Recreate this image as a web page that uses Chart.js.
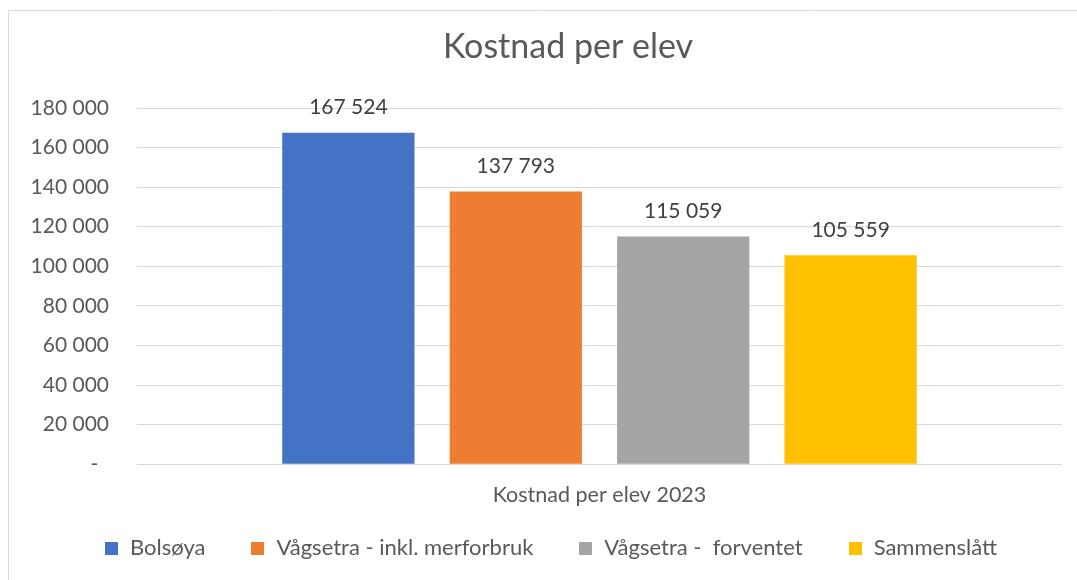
<!DOCTYPE html>
<html><head><meta charset="utf-8">
<script src="https://cdn.jsdelivr.net/npm/chart.js@4/dist/chart.umd.min.js"></script>
<style>html,body{margin:0;padding:0;background:#fff}#wrap{position:relative;width:1077px;height:580px}</style>
</head><body><div id="wrap"><canvas id="c" width="1077" height="580"></canvas></div>
<script>
const chartTitle = 'Kostnad per elev';
const categories = ['Kostnad per elev 2023'];
const seriesNames = ['Bolsøya', 'Vågsetra - inkl. merforbruk', 'Vågsetra -  forventet', 'Sammenslått'];
const bolsoya = [167524];
const vagsetraInkl = [137793];
const vagsetraForventet = [115059];
const sammenslatt = [105559];
const yTickValues = [0, 20000, 40000, 60000, 80000, 100000, 120000, 140000, 160000, 180000];
const seriesColors = ['#4472C4', '#ED7D31', '#A5A5A5', '#FFC000'];

const FONT = 'Lato';
function fmt(v) {
  if (v === 0) return '-  ';
  return String(Math.round(v)).replace(/\B(?=(\d{3})+(?!\d))/g, ' ');
}

const frame = {
  id: 'frame',
  beforeDraw(chart) {
    const ctx = chart.ctx;
    ctx.save();
    ctx.fillStyle = '#fff';
    ctx.fillRect(0, 0, chart.width, chart.height);
    ctx.strokeStyle = '#d9d9d9';
    ctx.lineWidth = 1;
    ctx.beginPath();
    ctx.moveTo(8.5, chart.height);
    ctx.lineTo(8.5, 10.5);
    ctx.lineTo(chart.width, 10.5);
    ctx.stroke();
    ctx.font = '34px ' + FONT;
    ctx.fillStyle = '#595959';
    ctx.textAlign = 'center';
    ctx.textBaseline = 'middle';
    ctx.fillText(chartTitle, 568, 47);
    ctx.restore();
  }
};

const dataLabels = {
  id: 'dataLabels',
  afterDatasetsDraw(chart) {
    const ctx = chart.ctx;
    ctx.save();
    ctx.font = '21px ' + FONT;
    ctx.fillStyle = '#404040';
    ctx.textAlign = 'center';
    ctx.textBaseline = 'middle';
    chart.data.datasets.forEach((ds, i) => {
      const meta = chart.getDatasetMeta(i);
      meta.data.forEach((el, j) => {
        ctx.fillText(fmt(ds.data[j]), el.x, el.y - 25);
      });
    });
    ctx.restore();
  }
};

const bottomLegend = {
  id: 'bottomLegend',
  afterDraw(chart) {
    const ctx = chart.ctx;
    ctx.save();
    ctx.font = '22px ' + FONT;
    ctx.textBaseline = 'middle';
    ctx.textAlign = 'left';
    const box = 13, gap = 12, spacing = 46, cy = 548;
    const items = chart.data.datasets.map(ds => ({ label: ds.label, color: ds.backgroundColor, w: ctx.measureText(ds.label).width }));
    let total = 0;
    items.forEach((it, i) => { total += box + gap + it.w + (i < items.length - 1 ? spacing : 0); });
    let x = 551 - total / 2;
    items.forEach(it => {
      ctx.fillStyle = it.color;
      ctx.fillRect(Math.round(x), cy - 6, box, box);
      ctx.fillStyle = '#595959';
      ctx.fillText(it.label, x + box + gap, cy);
      x += box + gap + it.w + spacing;
    });
    ctx.restore();
  }
};

const seriesData = [bolsoya, vagsetraInkl, vagsetraForventet, sammenslatt];

new Chart(document.getElementById('c'), {
  type: 'bar',
  data: {
    labels: categories,
    datasets: seriesNames.map((n, i) => ({
      label: n,
      data: seriesData[i],
      backgroundColor: seriesColors[i],
      borderWidth: 0,
      categoryPercentage: 0.724,
      barPercentage: 0.79
    }))
  },
  options: {
    responsive: false,
    devicePixelRatio: 1,
    animation: false,
    layout: { padding: { left: 10, right: 15, top: 108, bottom: 62 } },
    plugins: {
      title: { display: false },
      legend: { display: false },
      tooltip: { enabled: false }
    },
    scales: {
      x: {
        grid: { display: false },
        border: { display: false },
        ticks: { color: '#595959', font: { family: FONT, size: 21.5 }, padding: 10 }
      },
      y: {
        min: 0, max: 180000,
        afterBuildTicks(s) { s.ticks = yTickValues.map(v => ({ value: v })); },
        grid: { color: '#d9d9d9', lineWidth: 1, drawTicks: false },
        border: { display: false },
        ticks: { color: '#595959', font: { family: FONT, size: 21 }, padding: 28, callback: v => fmt(v) },
        afterFit(s) { s.width = 127; }
      }
    }
  },
  plugins: [frame, dataLabels, bottomLegend]
});
</script></body></html>
